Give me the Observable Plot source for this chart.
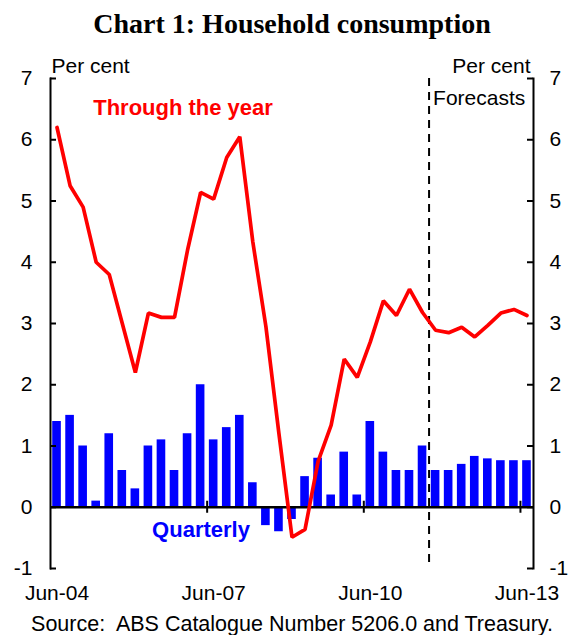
<!DOCTYPE html>
<html>
<head>
<meta charset="utf-8">
<script src="https://cdn.jsdelivr.net/npm/d3@7"></script>
<script src="https://cdn.jsdelivr.net/npm/@observablehq/plot@0.6"></script>
<style>
  body { margin: 0; background: #fff; }
</style>
</head>
<body>
<div id="chart"></div>
<script>
// Quarters, Jun-04 to Jun-13
const quarters = [
  "Jun-04","Sep-04","Dec-04","Mar-05","Jun-05","Sep-05","Dec-05","Mar-06",
  "Jun-06","Sep-06","Dec-06","Mar-07","Jun-07","Sep-07","Dec-07","Mar-08",
  "Jun-08","Sep-08","Dec-08","Mar-09","Jun-09","Sep-09","Dec-09","Mar-10",
  "Jun-10","Sep-10","Dec-10","Mar-11","Jun-11","Sep-11","Dec-11","Mar-12",
  "Jun-12","Sep-12","Dec-12","Mar-13","Jun-13"
];
// Quarterly growth (per cent) - bars
const quarterly = [
  1.4, 1.5, 1.0, 0.1, 1.2, 0.6, 0.3, 1.0,
  1.1, 0.6, 1.2, 2.0, 1.1, 1.3, 1.5, 0.4,
  -0.3, -0.4, -0.2, 0.5, 0.8, 0.2, 0.9, 0.2,
  1.4, 0.9, 0.6, 0.6, 1.0, 0.6, 0.6, 0.7,
  0.83, 0.79, 0.76, 0.76, 0.76
];
// Through the year growth (per cent) - line
const throughYear = [
  6.2, 5.25, 4.9, 4.0, 3.8, 3.0, 2.2, 3.17,
  3.1, 3.1, 4.2, 5.14, 5.03, 5.71, 6.05, 4.33,
  2.95, 1.2, -0.49, -0.36, 0.75, 1.34, 2.42, 2.12,
  2.7, 3.37, 3.13, 3.56, 3.18, 2.89, 2.85, 2.94,
  2.78, 2.97, 3.17, 3.23, 3.13
];
const xTickLabels = ["Jun-04", "Jun-07", "Jun-10", "Jun-13"];
const yTicks = [-1, 0, 1, 2, 3, 4, 5, 6, 7];
const firstForecast = "Sep-11";

const rows = quarters.map((q, i) => ({q, i, quarterly: quarterly[i], through: throughYear[i]}));
const labelIdx = xTickLabels.map(l => quarters.indexOf(l));
const forecastIdx = quarters.indexOf(firstForecast);

const W = 570, H = 635, mL = 50, mR = 37, mT = 78, mB = 67;
const plotW = W - mL - mR;
const font = "'Liberation Sans', Arial, sans-serif";
const fmtY = d => String(d);

const chart = Plot.plot({
  width: W, height: H,
  marginLeft: mL, marginRight: mR, marginTop: mT, marginBottom: mB,
  style: {fontFamily: font, fontSize: "21px", color: "black", background: "white"},
  x: {type: "linear", domain: [-0.5, quarters.length - 0.5]},
  y: {domain: [-1, 7]},
  marks: [
    // bars
    Plot.rectY(rows, {x1: d => d.i - 0.33, x2: d => d.i + 0.33, y1: 0, y2: "quarterly", fill: "#0000ff"}),
    // zero line
    Plot.ruleY([0], {stroke: "black", strokeWidth: 2.5}),
    // x ticks crossing the zero line (between quarters)
    Plot.ruleX(labelIdx.slice(1), {x: d => d - 0.5, y1: 0, y2: 0, insetTop: -6, insetBottom: -6, stroke: "black", strokeWidth: 2}),
    // forecast divider
    Plot.ruleX([forecastIdx - 0.5], {stroke: "black", strokeWidth: 2, strokeDasharray: "8,6"}),
    // through the year line
    Plot.line(rows, {x: "i", y: "through", stroke: "#ff0000", strokeWidth: 3.7, strokeLinejoin: "miter"}),
    // axes
    Plot.axisY({anchor: "left", ticks: yTicks, tickFormat: fmtY, tickSize: 0, tickPadding: 18, label: null, fontSize: 21}),
    Plot.axisY({anchor: "right", ticks: yTicks, tickFormat: fmtY, tickSize: 0, tickPadding: 16, label: null, fontSize: 21}),
    Plot.axisX({anchor: "bottom", ticks: labelIdx, tickFormat: d => quarters[d], tickSize: 0, tickPadding: 17, label: null, fontSize: 21}),
    Plot.frame({anchor: "left", stroke: "black", strokeWidth: 2}),
    Plot.frame({anchor: "right", stroke: "black", strokeWidth: 2}),
    Plot.tickY(yTicks, {y: d => d, insetRight: plotW - 6, stroke: "black", strokeWidth: 2}),
    Plot.tickY(yTicks, {y: d => d, insetLeft: plotW - 6, stroke: "black", strokeWidth: 2}),
    // labels
    Plot.text(["Per cent"], {frameAnchor: "top-left", textAnchor: "start", lineAnchor: "bottom", dx: 1, dy: -6, fontSize: 21}),
    Plot.text(["Per cent"], {frameAnchor: "top-right", textAnchor: "end", lineAnchor: "bottom", dx: -3, dy: -6, fontSize: 21}),
    Plot.text(["Forecasts"], {x: forecastIdx - 0.5, frameAnchor: "top", textAnchor: "start", lineAnchor: "bottom", dx: 4, dy: 26, fontSize: 21}),
    Plot.text(["Through the year"], {x: 2.77, y: 6.40, textAnchor: "start", lineAnchor: "bottom", fill: "#ff0000", fontWeight: "bold", fontSize: 22}),
    Plot.text(["Quarterly"], {x: 11.03, y: -0.49, textAnchor: "middle", lineAnchor: "bottom", fill: "#0000ff", fontWeight: "bold", fontSize: 22}),
    // title and source
    Plot.text(["Chart 1: Household consumption"], {frameAnchor: "top", lineAnchor: "bottom", dy: -46, fontSize: 28, fontWeight: "bold", fontFamily: "'Liberation Serif', 'Times New Roman', serif"}),
    Plot.text(["Source:\u00a0 ABS Catalogue Number 5206.0 and Treasury."], {frameAnchor: "bottom", lineAnchor: "bottom", dy: 62, fontSize: 21.5})
  ]
});
document.getElementById("chart").appendChild(chart);
</script>
</body>
</html>
